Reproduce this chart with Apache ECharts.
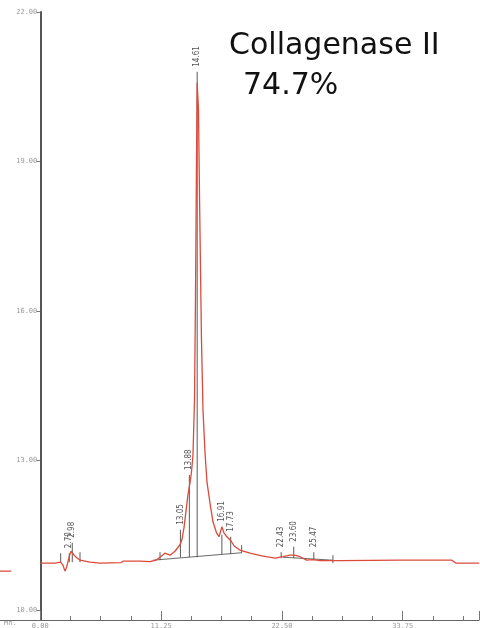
<!DOCTYPE html>
<html>
<head>
<meta charset="utf-8">
<title>Collagenase II chromatogram</title>
<script src="https://cdn.jsdelivr.net/npm/echarts@6/dist/echarts.min.js"></script>
<style>
  html, body { margin: 0; padding: 0; background: #fff; }
  #chart { width: 480px; height: 628px; }
</style>
</head>
<body>
<div id="chart"></div>
<script>
// Detector trace: retention time (min) and signal
const traceTime = [
  -3.75, -2.70, -1.50,
  0.00, 1.37, 1.90, 2.11, 2.30, 2.48, 2.70, 2.86, 2.98, 3.23, 3.70, 4.16, 4.63,
  5.56, 7.51, 7.70, 9.28, 10.21, 10.77, 11.14, 11.61, 12.08, 12.54, 13.01, 13.19,
  13.38, 13.56, 13.75, 13.94, 14.08, 14.22, 14.36, 14.45, 14.54, 14.61, 14.73,
  14.82, 14.92, 15.01, 15.15, 15.34, 15.52, 15.80, 16.08, 16.41, 16.64, 16.91,
  17.10, 17.38, 17.75, 18.04, 18.59, 19.53, 20.74, 21.86, 22.60, 23.25, 23.71,
  24.18, 24.80, 25.39, 26.04, 27.90, 33.49, 38.33, 38.71, 40.85
];
const traceSignal = [
  10.78, 10.78, null,
  10.94, 10.94, 10.96, 10.90, 10.78, 10.88, 11.08, 11.18, 11.14, 11.08, 11.00, 10.98, 10.96,
  10.94, 10.95, 10.98, 10.98, 10.97, 11.00, 11.06, 11.14, 11.10, 11.18, 11.31, 11.41,
  11.65, 11.97, 12.31, 12.55, 12.77, 13.11, 14.22, 16.22, 18.84, 20.58, 20.04,
  18.43, 16.83, 15.42, 14.02, 13.15, 12.57, 12.15, 11.77, 11.55, 11.47, 11.67,
  11.55, 11.47, 11.39, 11.29, 11.20, 11.14, 11.08, 11.04, 11.07, 11.10, 11.10,
  11.07, 11.00, 11.01, 10.99, 10.99, 11.00, 11.00, 10.94, 10.94
];

// Integrated peaks: retention time label, drop-line foot and top
const peakLabels = ['2.70', '2.98', '13.05', '13.88', '14.61', '16.91', '17.73', '22.43', '23.60', '25.47'];
const peakTimes = [2.70, 2.98, 13.05, 13.88, 14.61, 16.91, 17.73, 22.43, 23.60, 25.47];
const peakFoot  = [10.96, 10.96, 11.06, 11.06, 11.06, 11.12, 11.12, 11.04, 11.04, 11.00];
const peakTop   = [11.14, 11.35, 11.61, 12.71, 20.80, 11.51, 11.47, 11.16, 11.27, 11.16];

// Integration event marks (no label)
const eventTimes = [1.90, 3.70, 11.15, 18.75, 27.25];
const eventFoot  = [10.96, 10.96, 11.00, 11.14, 10.94];
const eventTop   = [11.14, 11.16, 11.16, 11.30, 11.10];

// Drawn integration baselines
const baselineA = [[10.50, 11.00], [18.75, 11.15]];
const baselineB = [[22.60, 11.06], [27.25, 11.00]];

// Axis ticks
const timeMin = -3.75, timeMax = 40.85;
const minorTickTimes = [0, 2.8125, 5.625, 8.4375, 11.25, 14.0625, 16.875, 19.6875, 22.5,
  25.3125, 28.125, 30.9375, 33.75, 36.5625, 39.375];
const majorTickTimes = [0, 11.25, 22.5, 33.75, 40.85];
const timeLabels = [0, 11.25, 22.5, 33.75];
const signalLabels = [10, 13, 16, 19, 22];
const signalMin = 9.8, signalMax = 22;

const titleLine1 = 'Collagenase II';
const titleLine2 = '74.7%';

const trace = traceTime.map((t, i) => [t, traceSignal[i]]);

// signal at a given time (for placing labels above the curve)
function signalAt(t) {
  for (let i = 0; i < traceTime.length - 1; i++) {
    const a = traceTime[i], b = traceTime[i + 1];
    if (traceSignal[i] == null || traceSignal[i + 1] == null) continue;
    if (t >= a && t <= b) {
      const f = (t - a) / (b - a);
      return traceSignal[i] + f * (traceSignal[i + 1] - traceSignal[i]);
    }
  }
  return null;
}

// [time, foot, top, label index (-1 = no label)]
const peakData = peakTimes.map((t, i) => [t, peakFoot[i], peakTop[i], i]);
const eventData = eventTimes.map((t, i) => [t, eventFoot[i], eventTop[i], -1]);

function dropLines(params, api) {
  const t = api.value(0);
  const p0 = api.coord([t, api.value(1)]);
  const p1 = api.coord([t, api.value(2)]);
  const children = [{
    type: 'line',
    shape: { x1: p0[0], y1: p0[1], x2: p1[0], y2: p1[1] },
    style: { stroke: '#5a5a5a', lineWidth: 1 }
  }];
  const idx = api.value(3);
  if (idx >= 0) {
    const c = signalAt(t);
    let topY = p1[1];
    if (c != null) topY = Math.min(topY, api.coord([t, c])[1]);
    children.push({
      type: 'text',
      x: p1[0],
      y: topY - 5,
      rotation: Math.PI / 2,
      style: {
        text: peakLabels[idx],
        align: 'left',
        verticalAlign: 'middle',
        fill: '#555',
        font: '8px "DejaVu Sans Condensed", "DejaVu Sans", sans-serif'
      }
    });
  }
  return { type: 'group', children };
}

// plot area geometry; the signal axis stands at time zero
const gridLeft = 0, gridRight = 1, chartWidth = 480;
const plotWidth = chartWidth - gridLeft - gridRight;
const zeroOffset = (0 - timeMin) / (timeMax - timeMin) * plotWidth;

const chart = echarts.init(document.getElementById('chart'), null, { renderer: 'canvas' });

chart.setOption({
  animation: false,
  backgroundColor: '#ffffff',
  title: [
    { text: titleLine1, left: 224, top: 26,
      textStyle: { fontFamily: 'DejaVu Sans', fontSize: 30, fontWeight: 'normal', color: '#111' } },
    { text: titleLine2, left: 238, top: 66,
      textStyle: { fontFamily: 'DejaVu Sans', fontSize: 30, fontWeight: 'normal', color: '#111' } }
  ],
  graphic: [
    { type: 'text', left: 4, top: 620,
      style: { text: 'Mn.', fill: '#9a9a9a', font: '7px "DejaVu Sans Mono", monospace' } }
  ],
  grid: { left: gridLeft, right: gridRight, top: 12, bottom: 8, containLabel: false, outerBoundsMode: 'none' },
  xAxis: [
    {
      type: 'value', min: timeMin, max: timeMax, position: 'bottom',
      axisLine: { onZero: false, lineStyle: { color: '#666', width: 1 } },
      axisTick: { inside: true, length: 4, customValues: minorTickTimes, lineStyle: { color: '#777' } },
      axisLabel: {
        customValues: timeLabels, margin: 3, color: '#9a9a9a',
        fontFamily: 'DejaVu Sans Mono', fontSize: 7,
        formatter: v => v.toFixed(2)
      },
      splitLine: { show: false }
    },
    {
      type: 'value', min: timeMin, max: timeMax, position: 'bottom',
      axisLine: { show: false, onZero: false },
      axisTick: { inside: true, length: 9, customValues: majorTickTimes, lineStyle: { color: '#777' } },
      axisLabel: { show: false },
      splitLine: { show: false }
    }
  ],
  yAxis: {
    type: 'value', min: signalMin, max: signalMax, position: 'left', offset: -zeroOffset,
    axisLine: { show: true, onZero: false, lineStyle: { color: '#555', width: 2 } },
    axisTick: { show: true, length: 4, customValues: signalLabels, lineStyle: { color: '#777' } },
    axisLabel: {
      customValues: signalLabels, margin: 3, color: '#9a9a9a',
      fontFamily: 'DejaVu Sans Mono', fontSize: 7,
      formatter: v => v.toFixed(2)
    },
    splitLine: { show: false }
  },
  series: [
    {
      type: 'line', data: baselineA, symbol: 'none', silent: true,
      lineStyle: { color: '#6a6a6a', width: 1 }, z: 2
    },
    {
      type: 'line', data: baselineB, symbol: 'none', silent: true,
      lineStyle: { color: '#6a6a6a', width: 1 }, z: 2
    },
    {
      type: 'custom', renderItem: dropLines, data: eventData, z: 3, silent: true,
      encode: { x: 0, y: 2 }, clip: false
    },
    {
      type: 'custom', renderItem: dropLines, data: peakData, z: 3, silent: true,
      encode: { x: 0, y: 2 }, clip: false
    },
    {
      type: 'line', data: trace, symbol: 'none', connectNulls: false, silent: true,
      lineStyle: { color: '#dc4a3a', width: 1.3 }, z: 4
    }
  ]
});
</script>
</body>
</html>
